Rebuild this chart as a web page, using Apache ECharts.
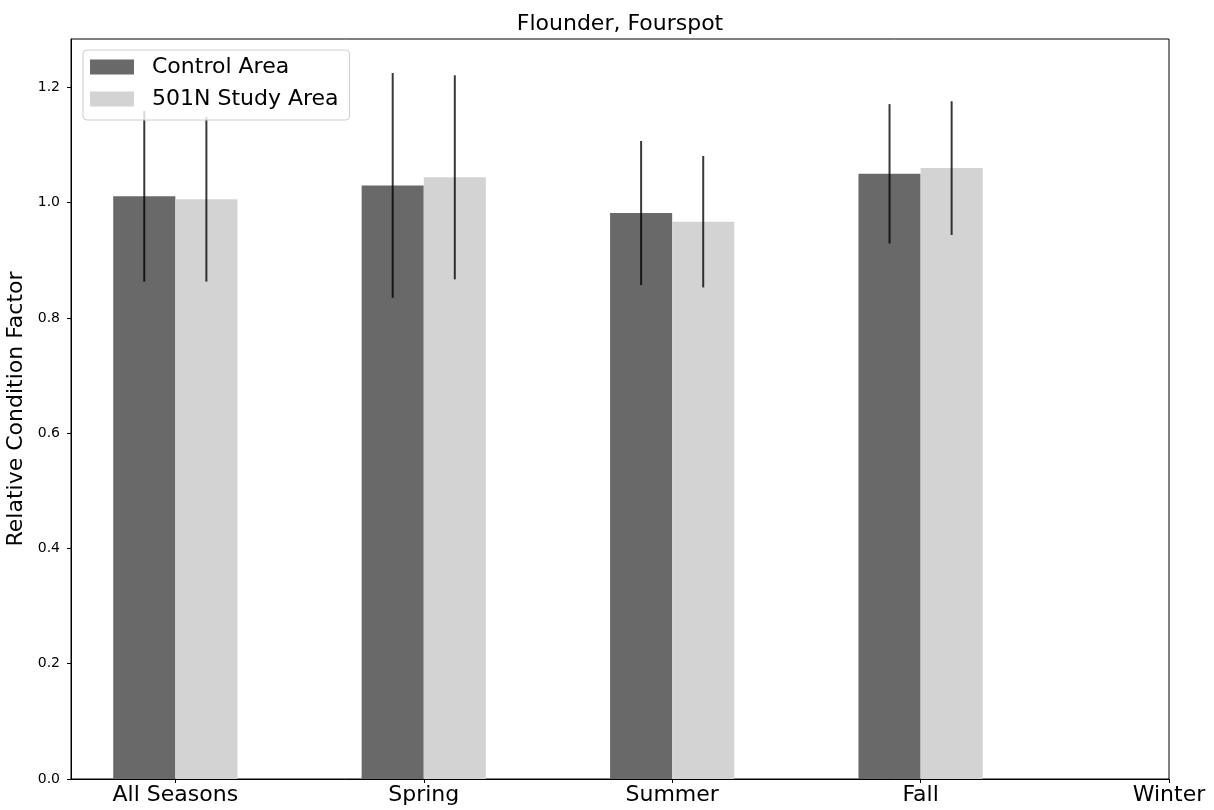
<!DOCTYPE html>
<html>
<head>
<meta charset="utf-8">
<script src="https://cdn.jsdelivr.net/npm/echarts@6/dist/echarts.min.js"></script>
<style>
html,body{margin:0;padding:0;background:#fff;}
#chart{width:1214px;height:810px;}
</style>
</head>
<body>
<div id="chart"></div>
<script>
const categories = ['All Seasons', 'Spring', 'Summer', 'Fall', 'Winter'];
const controlValues = [1.011, 1.030, 0.982, 1.050];
const controlErrors = [0.148, 0.195, 0.125, 0.121];
const studyValues = [1.006, 1.044, 0.967, 1.060];
const studyErrors = [0.143, 0.177, 0.114, 0.116];
const yTicks = [0, 0.2, 0.4, 0.6, 0.8, 1.0, 1.2];
const seriesNames = ['Control Area', '501N Study Area'];

const chart = echarts.init(document.getElementById('chart'), null, {renderer: 'canvas'});
const FONT = 'DejaVu Sans';

function makeRender(off0, off1) {
  return function (params, api) {
    const x = api.value(0), v = api.value(1), e = api.value(2);
    const pTop = api.coord([x + off0, v]);
    const pBot = api.coord([x + off1, 0]);
    const xc = (x + (off0 + off1) / 2);
    const eTop = api.coord([xc, v + e]);
    const eBot = api.coord([xc, v - e]);
    return {
      type: 'group',
      children: [
        {
          type: 'rect',
          shape: {x: pTop[0], y: pTop[1], width: pBot[0] - pTop[0], height: pBot[1] - pTop[1]},
          style: {fill: api.visual('color')}
        },
        {
          type: 'line',
          z2: 10,
          shape: {x1: eTop[0], y1: eTop[1], x2: eBot[0], y2: eBot[1]},
          style: {stroke: 'rgba(0,0,0,0.78)', lineWidth: 2}
        }
      ]
    };
  };
}

const controlData = controlValues.map((v, i) => [i, v, controlErrors[i]]);
const studyData = studyValues.map((v, i) => [i, v, studyErrors[i]]);

chart.setOption({
  animation: false,
  backgroundColor: '#fff',
  title: {
    text: 'Flounder, Fourspot',
    left: 615,
    textAlign: 'center',
    top: 8,
    textStyle: {fontFamily: FONT, fontSize: 22, fontWeight: 'normal', color: '#000'}
  },
  legend: {
    orient: 'vertical',
    left: 83,
    top: 50,
    padding: [6, 11, 10, 7],
    itemWidth: 44,
    itemHeight: 15,
    itemGap: 10,
    backgroundColor: 'rgba(255,255,255,0.8)',
    borderColor: '#cccccc',
    borderWidth: 1,
    borderRadius: 4,
    z: 10,
    data: [
      {name: seriesNames[0], icon: 'rect'},
      {name: seriesNames[1], icon: 'rect'}
    ],
    textStyle: {fontFamily: FONT, fontSize: 22, color: '#000', padding: [0, 0, 0, 13]}
  },
  grid: {
    left: 71, right: 45, top: 39, bottom: 31,
    outerBoundsMode: 'none',
    containLabel: false,
    show: true, borderColor: '#000', borderWidth: 1, backgroundColor: 'transparent'
  },
  xAxis: {
    type: 'value',
    min: -0.42,
    max: 4,
    splitLine: {show: false},
    axisLine: {show: true, onZero: false, lineStyle: {color: '#000', width: 1}},
    axisTick: {show: true, length: 4, lineStyle: {color: '#000'}, customValues: [0, 1, 2, 3, 4]},
    axisLabel: {
      customValues: [0, 1, 2, 3, 4],
      formatter: v => categories[Math.round(v)],
      fontFamily: FONT, fontSize: 22, color: '#000', margin: 5
    }
  },
  yAxis: {
    type: 'value',
    min: 0,
    max: 1.284,
    name: 'Relative Condition Factor',
    nameLocation: 'middle',
    nameGap: 39,
    nameTextStyle: {fontFamily: FONT, fontSize: 22, color: '#000'},
    splitLine: {show: false},
    axisLine: {show: true, onZero: false, lineStyle: {color: '#000', width: 1}},
    axisTick: {show: true, length: 4, lineStyle: {color: '#000'}, customValues: yTicks},
    axisLabel: {
      customValues: yTicks,
      formatter: v => v.toFixed(1),
      fontFamily: FONT, fontSize: 14, color: '#000', margin: 11
    }
  },
  series: [
    {
      name: seriesNames[0],
      type: 'custom',
      itemStyle: {color: '#696969'},
      renderItem: makeRender(-0.25, 0),
      encode: {x: 0, y: 1},
      data: controlData
    },
    {
      name: seriesNames[1],
      type: 'custom',
      itemStyle: {color: '#d3d3d3'},
      renderItem: makeRender(0, 0.25),
      encode: {x: 0, y: 1},
      data: studyData
    }
  ]
});
</script>
</body>
</html>
